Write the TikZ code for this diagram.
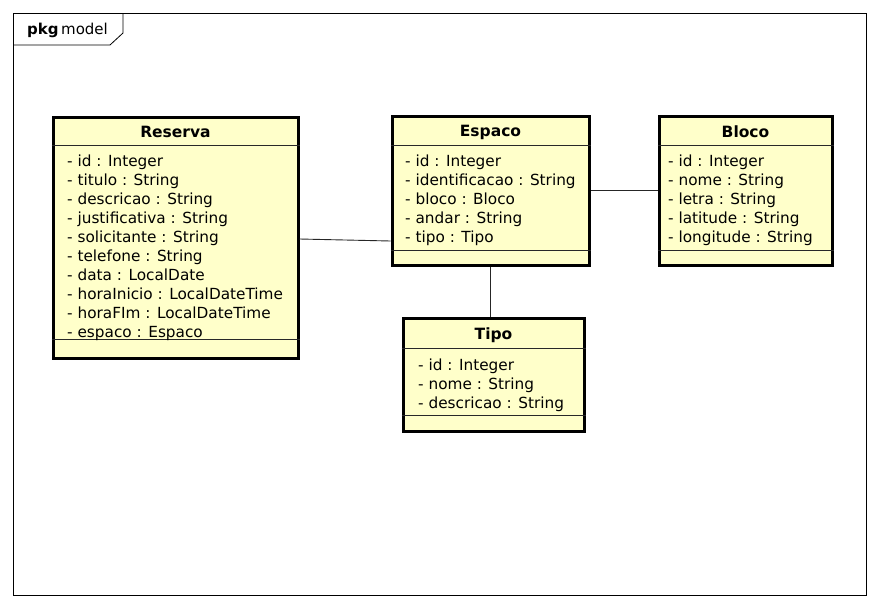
\documentclass[tikz,border=0pt]{standalone}
\usepackage{fontspec}
\setmainfont{DejaVu Sans}
\definecolor{classfill}{RGB}{255,255,202}
\definecolor{sepline}{RGB}{40,40,40}
\begin{document}
\begin{tikzpicture}[x=1pt,y=-1pt,
  classbox/.style={draw=black,fill=classfill,line width=3pt,inner sep=0pt},
  sep/.style={draw=sepline,line width=0.8pt},
  conn/.style={draw=black!85,line width=0.9pt},
  title/.style={font=\fontsize{15.5}{18}\selectfont\bfseries,inner sep=0pt,anchor=center},
  attrs/.style={font=\fontsize{15.3}{19}\selectfont,align=left,inner sep=0pt,anchor=north west},
  frame/.style={draw=black,line width=0.8pt}]
\useasboundingbox (0,0) rectangle (880,608);
% package frame
\draw[frame] (13,13) rectangle (866,595);
\draw[frame] (123,13) -- (123,33) -- (110,45) -- (13,45);
\node[anchor=west,inner sep=0pt,font=\fontsize{15}{18}\selectfont] (pkg) at (27,30) {\textbf{pkg}\,model};
% Reserva
\node[classbox,minimum width=245pt,minimum height=241pt] (reserva) at (175.5,237.5) {};
\node[title] (reservaT) at (reserva.north |- 0,132) {Reserva};
\draw[sep] (reserva.west |- 0,145) -- (reserva.east |- 0,145);
\draw[sep] (reserva.west |- 0,339) -- (reserva.east |- 0,339);
\node[attrs] (reservaA) at (67,155) {- id : Integer\\- titulo : String\\- descricao : String\\- justificativa : String\\- solicitante : String\\- telefone : String\\- data : LocalDate\\- horaInicio : LocalDateTime\\- horaFIm : LocalDateTime\\- espaco : Espaco};
% Espaco
\node[classbox,minimum width=197pt,minimum height=149pt] (espaco) at (490.5,190.5) {};
\node[title] (espacoT) at (espaco.north |- 0,132) {Espaco};
\draw[sep] (espaco.west |- 0,145) -- (espaco.east |- 0,145);
\draw[sep] (espaco.west |- 0,250) -- (espaco.east |- 0,250);
\node[attrs] (espacoA) at (405,155) {- id : Integer\\- identificacao : String\\- bloco : Bloco\\- andar : String\\- tipo : Tipo};
% Bloco
\node[classbox,minimum width=173pt,minimum height=149pt] (bloco) at (745.5,190.5) {};
\node[title] (blocoT) at (bloco.north |- 0,132) {Bloco};
\draw[sep] (bloco.west |- 0,145) -- (bloco.east |- 0,145);
\draw[sep] (bloco.west |- 0,250) -- (bloco.east |- 0,250);
\node[attrs] (blocoA) at (668,155) {- id : Integer\\- nome : String\\- letra : String\\- latitude : String\\- longitude : String};
% Tipo
\node[classbox,minimum width=181pt,minimum height=113pt] (tipo) at (493.5,374.5) {};
\node[title] (tipoT) at (tipo.north |- 0,335) {Tipo};
\draw[sep] (tipo.west |- 0,348) -- (tipo.east |- 0,348);
\draw[sep] (tipo.west |- 0,415) -- (tipo.east |- 0,415);
\node[attrs] (tipoA) at (418,359) {- id : Integer\\- nome : String\\- descricao : String};
% connectors
\draw[conn] ([yshift=-1.5pt]reserva.east) -- ([yshift=-50.5pt]espaco.west);
\draw[conn] (espaco.east) -- (bloco.west);
\draw[conn] (espaco.south) -- (espaco.south |- tipo.north);
\end{tikzpicture}
\end{document}
